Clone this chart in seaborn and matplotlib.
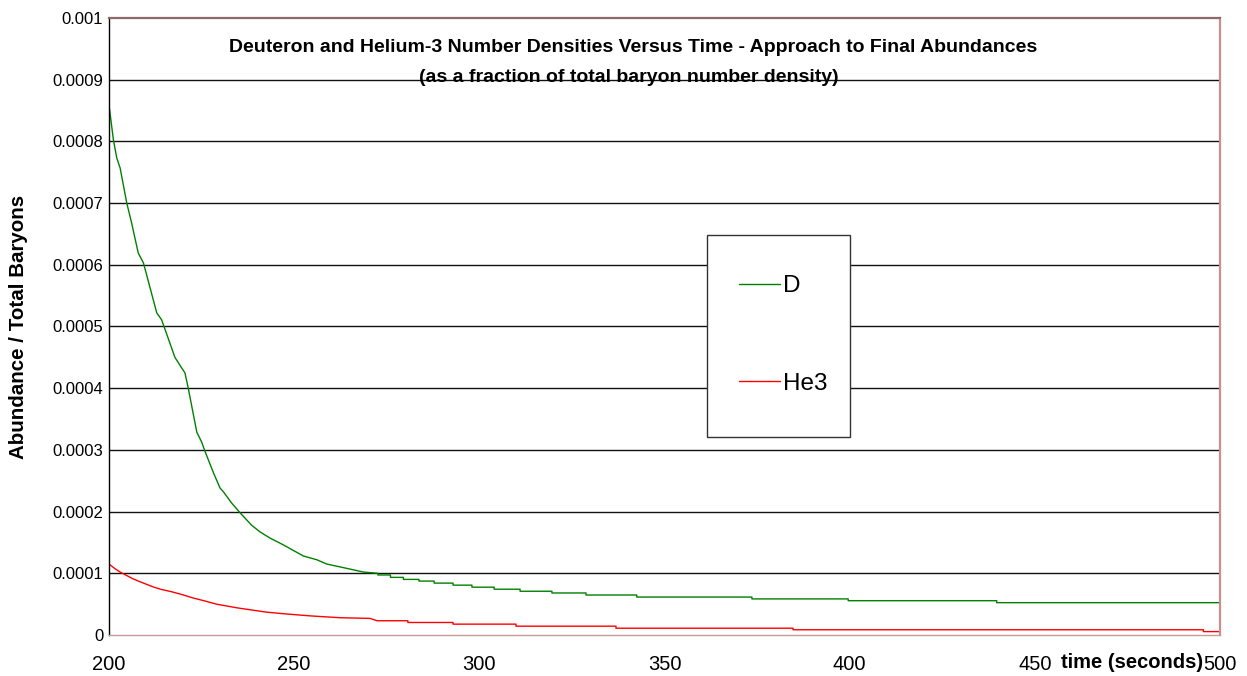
import matplotlib
matplotlib.use("Agg")
import matplotlib.pyplot as plt
from matplotlib.patches import Rectangle
import seaborn as sns
import pandas as pd

# ---------------- data ----------------
# Deuteron: smooth early part (time s, abundance)
d_time = [200, 201.2, 202.1, 203, 204.8, 206.1, 207.9, 209.3, 212.9, 214.2,
          217.8, 219.6, 220.5, 221.4, 223.7, 225, 225.9, 228.2, 230, 230.9,
          233.1, 235.4, 238.5, 240.8, 243.5, 247.1, 252.5, 256.1, 258.8,
          264.2, 268.7, 272.6]
d_val = [8.59e-4, 8.02e-4, 7.73e-4, 7.57e-4, 7.00e-4, 6.68e-4, 6.19e-4, 6.03e-4,
         5.22e-4, 5.11e-4, 4.50e-4, 4.33e-4, 4.25e-4, 4.00e-4, 3.29e-4, 3.13e-4,
         2.98e-4, 2.63e-4, 2.38e-4, 2.32e-4, 2.14e-4, 1.98e-4, 1.78e-4, 1.67e-4,
         1.57e-4, 1.46e-4, 1.28e-4, 1.22e-4, 1.15e-4, 1.08e-4, 1.02e-4, 1.00e-4]
# Deuteron: later stepped plateaus (step start time, level)
d_step_time = [272.6, 276.0, 279.5, 283.7, 287.8, 292.9, 298.0, 304.0, 311.0,
               319.6, 328.8, 342.5, 373.6, 399.6, 439.7]
d_step_val = [0.973e-4, 0.934e-4, 0.901e-4, 0.874e-4, 0.841e-4, 0.808e-4,
              0.775e-4, 0.742e-4, 0.709e-4, 0.681e-4, 0.648e-4, 0.615e-4,
              0.585e-4, 0.556e-4, 0.524e-4]

# Helium-3: smooth early part
he_time = [200, 201.5, 203, 206.5, 208.5, 211.9, 214, 217, 220, 222.7, 226,
           229, 234.6, 238, 242.6, 248, 254.3, 262.4, 270.5]
he_val = [11.5e-5, 10.8e-5, 10.2e-5, 9.1e-5, 8.6e-5, 7.8e-5, 7.4e-5, 7.0e-5,
          6.5e-5, 6.0e-5, 5.5e-5, 5.0e-5, 4.4e-5, 4.1e-5, 3.7e-5, 3.4e-5,
          3.1e-5, 2.8e-5, 2.69e-5]
# Helium-3: later stepped plateaus
he_step_time = [272.4, 280.7, 292.9, 309.9, 336.9, 384.7, 495.5]
he_step_val = [2.31e-5, 2.03e-5, 1.76e-5, 1.43e-5, 1.10e-5, 0.85e-5, 0.55e-5]

t_end = 500
x_ticks = [200, 250, 300, 350, 400, 450, 500]
y_ticks = [0, 0.0001, 0.0002, 0.0003, 0.0004, 0.0005, 0.0006, 0.0007,
           0.0008, 0.0009, 0.001]
y_tick_labels = ["0", "0.0001", "0.0002", "0.0003", "0.0004", "0.0005",
                 "0.0006", "0.0007", "0.0008", "0.0009", "0.001"]
series_names = ["D", "He3"]
title_lines = ["Deuteron and Helium-3 Number Densities Versus Time - Approach to Final Abundances",
               "(as a fraction of total baryon number density)"]


def build(t_smooth, v_smooth, t_steps, v_steps, end):
    ts, vs = list(t_smooth), list(v_smooth)
    ends = t_steps[1:] + [end]
    for a, b, v in zip(t_steps, ends, v_steps):
        ts += [a, b]
        vs += [v, v]
    return ts, vs


dt, dv = build(d_time, d_val, d_step_time, d_step_val, t_end)
ht, hv = build(he_time, he_val, he_step_time, he_step_val, t_end)
df = pd.concat([
    pd.DataFrame({"time": dt, "val": dv, "series": series_names[0]}),
    pd.DataFrame({"time": ht, "val": hv, "series": series_names[1]}),
])

# ---------------- style ----------------
sns.set_style("white")
plt.rcParams["font.family"] = ["Liberation Sans", "DejaVu Sans"]
plt.rcParams["text.color"] = "black"
plt.rcParams["axes.labelcolor"] = "black"

W, H = 1247, 676
fig = plt.figure(figsize=(W / 100, H / 100), dpi=100)
L, R, T, B = 109, 1220, 18, 635
ax = fig.add_axes([L / W, 1 - B / H, (R - L) / W, (B - T) / H])

palette = {"D": "#008000", "He3": "#ff0000"}
sns.lineplot(data=df, x="time", y="val", hue="series", palette=palette,
             units="series", estimator=None, sort=False, linewidth=1.0, ax=ax)

ax.set_xlim(200, 500)
ax.set_ylim(0, 0.001)
ax.set_xticks(x_ticks)
ax.set_xticklabels([str(x) for x in x_ticks])
ax.set_yticks(y_ticks)
ax.set_yticklabels(y_tick_labels)
ax.tick_params(axis="both", direction="out", length=3.6, width=1, color="black",
               labelcolor="black")
ax.tick_params(axis="y", labelsize=12, pad=0.5)
ax.tick_params(axis="x", labelsize=14.5, pad=11)

for y in y_ticks[1:-1]:
    ax.axhline(y, color="#111111", linewidth=1.0, zorder=0.5)

ax.spines["left"].set_color("black")
ax.spines["left"].set_linewidth(1.0)
ax.spines["bottom"].set_color("#c99a9a")
ax.spines["bottom"].set_linewidth(1.0)
ax.spines["top"].set_color("#8a6a6a")
ax.spines["top"].set_linewidth(1.6)
ax.spines["right"].set_color("#c98f8f")
ax.spines["right"].set_linewidth(1.6)

ax.set_xlabel("")
ax.set_ylabel("Abundance / Total Baryons", fontsize=14.8, fontweight="bold")
ax.yaxis.set_label_coords(-(L - 19) / (R - L), 0.5)
ax.yaxis.label.set_va("center")

fig.text(1132 / W, 1 - 662 / H, "time (seconds)", fontsize=14.5,
         fontweight="bold", ha="center", va="center")
fig.text(633 / W, 1 - 48 / H, title_lines[0], fontsize=14, fontweight="bold",
         ha="center", va="center")
fig.text(629 / W, 1 - 77 / H, title_lines[1], fontsize=14, fontweight="bold",
         ha="center", va="center")

# legend box frame
box = Rectangle((707 / W, 1 - 437 / H), 143 / W, 202 / H,
                transform=fig.transFigure, facecolor="white",
                edgecolor="#333333", linewidth=1.0, zorder=4, clip_on=False)
ax.add_patch(box)

handles, labels = ax.get_legend_handles_labels()
leg = ax.legend(handles, labels, loc="center",
                bbox_to_anchor=(783 / W, 1 - 335 / H),
                bbox_transform=fig.transFigure, fontsize=17.5, frameon=False,
                borderpad=0, labelspacing=3.1, handlelength=1.7,
                handletextpad=0.12, borderaxespad=0)
leg.set_zorder(5)
for line in leg.get_lines():
    line.set_linewidth(1.0)

fig.savefig("out.png", dpi=100)
